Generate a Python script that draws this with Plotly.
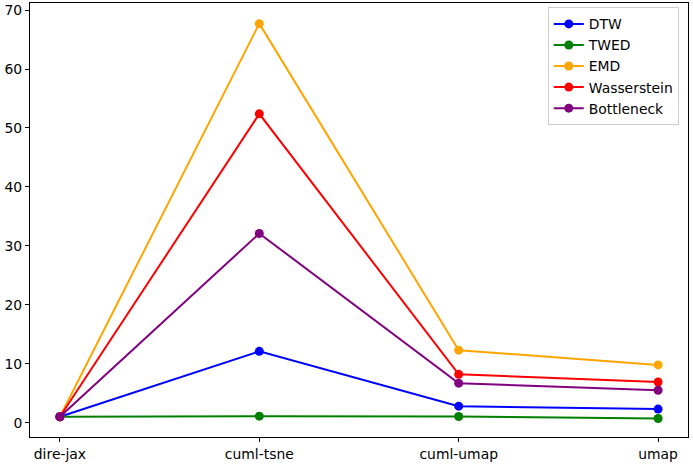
import plotly.graph_objects as go

categories = ["dire-jax", "cuml-tsne", "cuml-umap", "umap"]
dtw = [1.0, 12.1, 2.8, 2.3]
twed = [1.0, 1.1, 1.05, 0.7]
emd = [1.0, 67.7, 12.3, 9.8]
wasserstein = [1.0, 52.4, 8.2, 6.9]
bottleneck = [1.0, 32.1, 6.7, 5.5]

series = [
    ("DTW", dtw, "blue"),
    ("TWED", twed, "green"),
    ("EMD", emd, "orange"),
    ("Wasserstein", wasserstein, "red"),
    ("Bottleneck", bottleneck, "purple"),
]

fig = go.Figure()
for name, vals, color in series:
    fig.add_trace(go.Scatter(
        x=list(range(len(categories))), y=vals, name=name,
        mode="lines+markers",
        line=dict(color=color, width=2),
        marker=dict(color=color, size=9),
    ))

fig.update_layout(
    width=693, height=464,
    margin=dict(l=30, r=5, t=3, b=27, autoexpand=False),
    paper_bgcolor="white", plot_bgcolor="white",
    font=dict(family="DejaVu Sans", size=13.9, color="black"),
    showlegend=True,
    legend=dict(
        x=0.986, y=0.99, xanchor="right", yanchor="top",
        bgcolor="white", bordercolor="#cccccc", borderwidth=1,
        font=dict(size=13.9), tracegroupgap=0, itemwidth=30,
    ),
    xaxis=dict(
        tickmode="array", tickvals=list(range(len(categories))), ticktext=categories,
        range=[-0.15, 3.15], showgrid=False, zeroline=False, automargin=False,
        showline=True, linecolor="black", linewidth=1, mirror=True,
        ticks="outside", ticklen=4, tickcolor="black",
    ),
    yaxis=dict(
        range=[-2.43, 71.2], tickvals=[0, 10, 20, 30, 40, 50, 60, 70],
        showgrid=False, zeroline=False, automargin=False,
        showline=True, linecolor="black", linewidth=1, mirror=True,
        ticks="outside", ticklen=4, tickcolor="black",
    ),
)

fig.write_html(
    "out.html",
    config={"displayModeBar": False},
    post_script="document.body.style.margin='0';document.body.style.padding='0';",
)
